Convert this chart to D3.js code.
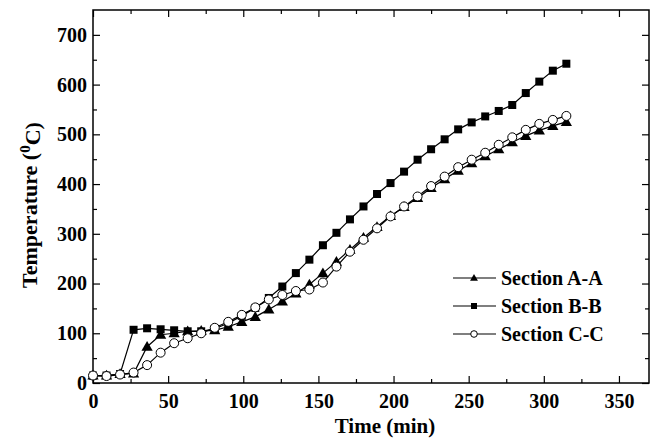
<!DOCTYPE html>
<html>
<head>
<meta charset="utf-8">
<script src="https://cdn.jsdelivr.net/npm/d3@7"></script>
<style>
  body { margin: 0; background: #fff; }
  text { font-family: "Liberation Serif", "Times New Roman", serif; font-weight: bold; fill: #000; }
</style>
</head>
<body>
<div id="viz"></div>
<script>
"use strict";

const w = 657;
const h = 445;

// sampling times (min)
const times = [0, 9, 18, 27, 36, 45, 54, 63, 72, 81, 90, 99, 108, 117, 126, 135, 144, 153,
  162, 171, 180, 189, 198, 207, 216, 225, 234, 243, 252, 261, 270, 279, 288, 297, 306, 315];

const sectionA = [15, 15, 18, 19, 73, 97, 100, 104, 105, 106, 113, 123, 133, 148, 164, 180, 198, 221,
  244, 268, 292, 314, 336, 354, 372, 392, 410, 427, 442, 456, 470, 484, 497, 508, 517, 525];
const sectionB = [15, 15, 18, 107, 110, 108, 106, 104, 104, 109, 120, 135, 151, 171, 194, 221, 248, 277,
  302, 329, 355, 380, 402, 425, 449, 470, 490, 510, 524, 536, 547, 559, 583, 606, 628, 642];
const sectionC = [15, 14, 17, 21, 36, 61, 80, 90, 100, 111, 123, 137, 152, 168, 177, 185, 188, 202,
  234, 264, 288, 311, 335, 355, 375, 396, 415, 434, 449, 463, 479, 494, 509, 521, 529, 537];

const seriesNames = ["Section A-A", "Section B-B", "Section C-C"];
const xTicks = [0, 50, 100, 150, 200, 250, 300, 350];
const yTicks = [0, 100, 200, 300, 400, 500, 600, 700];

const margin = { left: 93, right: 8, top: 10, bottom: 62 };

const svg = d3.select("#viz")
  .append("svg")
  .attr("width", w)
  .attr("height", h)

const x = d3.scaleLinear().domain([0, 370]).range([margin.left, w - margin.right]);
const y = d3.scaleLinear().domain([0, 750]).range([h - margin.bottom, margin.top]);

const minorX = d3.range(25, 370, 50);
const minorY = d3.range(50, 750, 100);

// axes, ticks pointing inward
function drawAxes() {
  const bottom = svg.append("g").attr("transform", `translate(0,${y(0)})`);
  bottom.call(d3.axisBottom(x).tickValues(xTicks).tickSizeInner(-7).tickSizeOuter(0).tickPadding(11));
  bottom.append("g").call(d3.axisBottom(x).tickValues(minorX).tickSizeInner(-4).tickSizeOuter(0).tickFormat(""));

  const top = svg.append("g").attr("transform", `translate(0,${y(750)})`);
  top.call(d3.axisTop(x).tickValues(xTicks).tickSizeInner(-7).tickSizeOuter(0).tickFormat(""));
  top.append("g").call(d3.axisTop(x).tickValues(minorX).tickSizeInner(-4).tickSizeOuter(0).tickFormat(""));

  const left = svg.append("g").attr("transform", `translate(${x(0)},0)`);
  left.call(d3.axisLeft(y).tickValues(yTicks).tickSizeInner(-7).tickSizeOuter(0).tickPadding(6));
  left.append("g").call(d3.axisLeft(y).tickValues(minorY).tickSizeInner(-4).tickSizeOuter(0).tickFormat(""));

  const right = svg.append("g").attr("transform", `translate(${x(370)},0)`);
  right.call(d3.axisRight(y).tickValues(yTicks).tickSizeInner(-7).tickSizeOuter(0).tickFormat(""));
  right.append("g").call(d3.axisRight(y).tickValues(minorY).tickSizeInner(-4).tickSizeOuter(0).tickFormat(""));

  svg.selectAll(".domain").remove();
  svg.selectAll(".tick line").attr("stroke", "#000").attr("stroke-width", 1.2);
  svg.selectAll(".tick text")
    .style("font-family", "'Liberation Serif', 'Times New Roman', serif")
    .style("font-weight", "bold")
    .style("font-size", "20px")
    .attr("fill", "#000");

  svg.append("rect")
    .attr("x", x(0)).attr("y", y(750))
    .attr("width", x(370) - x(0)).attr("height", y(0) - y(750))
    .attr("fill", "none").attr("stroke", "#000").attr("stroke-width", 1.5);
}

drawAxes();

const line = d3.line().x((d) => x(d[0])).y((d) => y(d[1]));

function pairs(vals) {
  return times.map((t, i) => [t, vals[i]]);
}

function drawMarker(g, kind, cx, cy, s) {
  if (kind === "tri") {
    g.append("path")
      .attr("d", d3.symbol(d3.symbolTriangle, s * s * 0.55)())
      .attr("transform", `translate(${cx},${cy + s * 0.08})`)
      .attr("fill", "#000");
  } else if (kind === "sq") {
    g.append("rect")
      .attr("x", cx - s / 2).attr("y", cy - s / 2)
      .attr("width", s).attr("height", s)
      .attr("fill", "#000");
  } else {
    g.append("circle")
      .attr("cx", cx).attr("cy", cy).attr("r", s / 2)
      .attr("fill", "#fff").attr("stroke", "#000").attr("stroke-width", 1);
  }
}

const series = [
  { vals: sectionA, kind: "tri", size: 10 },
  { vals: sectionB, kind: "sq", size: 8 },
  { vals: sectionC, kind: "circ", size: 9 }
];

series.forEach((s) => {
  const g = svg.append("g");
  const pts = pairs(s.vals);
  g.append("path")
    .datum(pts)
    .attr("d", line)
    .attr("fill", "none")
    .attr("stroke", "#000")
    .attr("stroke-width", 1.2);
  pts.forEach((p) => drawMarker(g, s.kind, x(p[0]), y(p[1]), s.size));
});

// legend
const legendRows = [278, 306, 334];
seriesNames.forEach((name, i) => {
  const g = svg.append("g");
  const ly = legendRows[i];
  g.append("line").attr("x1", 453).attr("x2", 496).attr("y1", ly).attr("y2", ly)
    .attr("stroke", "#000").attr("stroke-width", 1.2);
  if (series[i].kind === "circ") {
    g.append("circle").attr("cx", 474).attr("cy", ly).attr("r", 3.3)
      .attr("fill", "#fff").attr("stroke", "#000").attr("stroke-width", 1);
  } else {
    drawMarker(g, series[i].kind, 474, ly, series[i].kind === "tri" ? 7 : 6);
  }
  g.append("text")
    .attr("x", 501).attr("y", ly)
    .attr("dy", "0.35em")
    .style("font-size", "20px")
    .text(name);
});

// axis titles
svg.append("text")
  .attr("x", 385).attr("y", 433)
  .attr("text-anchor", "middle")
  .style("font-size", "21px")
  .text("Time (min)");

const yt = svg.append("text")
  .attr("transform", "translate(37,205) rotate(-90)")
  .attr("text-anchor", "middle")
  .style("font-size", "22px");
yt.append("tspan").text("Temperature (");
yt.append("tspan").attr("dy", "-0.45em").style("font-size", "15px").text("0");
yt.append("tspan").attr("dy", "0.45em").text("C)");
</script>
</body>
</html>
